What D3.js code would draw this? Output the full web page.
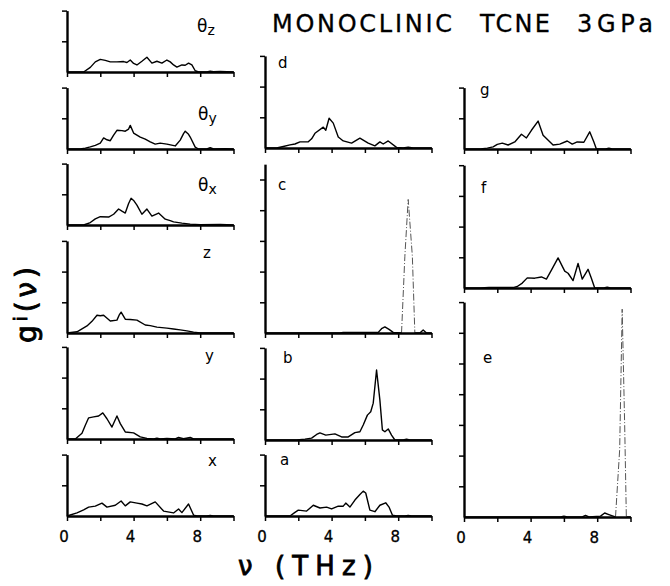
<!DOCTYPE html>
<html>
<head>
<meta charset="utf-8">
<script src="https://cdn.jsdelivr.net/npm/d3@7"></script>
<style>
  html, body { margin: 0; padding: 0; background: #fff; }
  svg { display: block; }
  text { font-family: "DejaVu Sans", sans-serif; fill: #000; }
</style>
</head>
<body>
<svg id="chart" width="670" height="586"></svg>
<script>
// ---------------- DATA (frequency in THz, g in y-tick units) ----------------
const xTickValues = [0, 2, 4, 6, 8, 10];
const xTickLabels = [0, 4, 8];
const titleWords = ["MONOCLINIC", "TCNE", "3GPa"];

const thetaZ = [[0,0],[1.0,0],[1.4,0.15],[1.7,0.33],[2.0,0.41],[2.3,0.38],[2.6,0.33],[3.0,0.33],[3.4,0.34],[3.6,0.31],[3.8,0.39],[4.0,0.28],[4.2,0.23],[4.5,0.35],[4.8,0.48],[5.1,0.29],[5.4,0.35],[5.7,0.29],[6.0,0.39],[6.2,0.33],[6.4,0.23],[6.6,0.16],[6.9,0.23],[7.1,0.22],[7.3,0.29],[7.5,0.23],[7.7,0.04],[7.9,0],[8.4,0],[8.6,0.03],[8.8,0.01],[9.2,0.02],[10,0]];
const thetaY = [[0,0],[0.8,0],[1.1,0.03],[1.4,0.07],[1.7,0.12],[2.0,0.19],[2.2,0.36],[2.4,0.3],[2.6,0.27],[2.8,0.45],[3.0,0.61],[3.3,0.6],[3.5,0.58],[3.7,0.65],[3.8,0.77],[4.0,0.52],[4.4,0.39],[4.7,0.32],[5.0,0.23],[5.3,0.16],[5.6,0.19],[6.0,0.16],[6.5,0.10],[6.8,0.29],[7.0,0.5],[7.1,0.58],[7.3,0.48],[7.4,0.39],[7.7,0.06],[7.9,0],[8.4,0],[8.6,0.04],[8.8,0],[9.5,0.01],[10,0]];
const thetaX = [[0,0],[1.0,0],[1.4,0.08],[1.7,0.2],[2.0,0.27],[2.5,0.26],[2.8,0.35],[3.1,0.52],[3.3,0.45],[3.5,0.39],[3.7,0.7],[3.85,0.87],[4.0,0.8],[4.2,0.65],[4.5,0.35],[4.8,0.52],[5.1,0.29],[5.5,0.39],[5.9,0.19],[6.2,0.14],[6.4,0.10],[6.9,0.06],[7.4,0.03],[8.0,0.01],[9.2,0.02],[10,0]];
const transZ = [[0,0],[0.6,0.04],[1.2,0.23],[1.5,0.38],[1.8,0.58],[2.0,0.56],[2.2,0.58],[2.6,0.39],[3.0,0.42],[3.15,0.6],[3.25,0.68],[3.5,0.45],[3.8,0.44],[4.2,0.42],[4.7,0.26],[5.0,0.24],[5.4,0.19],[6.0,0.16],[6.4,0.13],[6.8,0.10],[7.2,0.07],[7.6,0.03],[8.0,0],[10,0]];
const transY = [[0,0],[0.5,0],[0.9,0.19],[1.1,0.45],[1.3,0.69],[1.6,0.72],[1.9,0.75],[2.15,0.85],[2.4,0.66],[2.7,0.39],[3.0,0.75],[3.2,0.5],[3.5,0.23],[4.0,0.20],[4.4,0.07],[4.8,0.02],[5.2,0],[5.4,0.03],[5.6,0],[6.0,0.02],[6.5,0],[6.7,0.05],[7.0,0.01],[7.4,0.05],[7.6,0],[10,0]];
const transX = [[0,0],[0.6,0.1],[1.0,0.2],[1.3,0.29],[1.7,0.32],[2.1,0.42],[2.4,0.29],[2.9,0.35],[3.25,0.49],[3.5,0.33],[3.8,0.46],[4.2,0.42],[4.5,0.39],[4.8,0.33],[5.3,0.46],[5.8,0.16],[6.4,0.10],[6.7,0.23],[6.9,0.11],[7.3,0.39],[7.6,0.03],[7.8,0],[8.4,0],[8.6,0.02],[8.8,0],[10,0]];
const modeD = [[0,0],[0.7,0],[1.1,0.05],[1.5,0.1],[1.8,0.13],[2.1,0.2],[2.6,0.2],[2.8,0.3],[3.0,0.48],[3.5,0.68],[3.65,0.58],[3.85,0.97],[4.1,0.81],[4.4,0.36],[4.7,0.23],[5.2,0.16],[5.7,0.32],[6.2,0.16],[6.6,0.07],[6.9,0.2],[7.1,0.13],[7.4,0.23],[7.9,0.02],[8.3,0],[8.6,0.03],[8.9,0],[10,0]];
const modeC = [[0,0],[4.5,0],[4.7,0.02],[6.8,0.02],[7.0,0.14],[7.2,0.2],[7.45,0.12],[7.7,0.02],[8.2,0],[8.4,2.5],[8.6,4.35],[8.85,2.5],[9.0,0],[9.3,0],[9.5,0.1],[9.7,0],[10,0]];
const modeB = [[0,0],[1.9,0],[2.4,0.03],[2.8,0.06],[3.1,0.18],[3.3,0.23],[3.65,0.16],[4.2,0.2],[4.6,0.1],[5.0,0.1],[5.4,0.24],[5.7,0.27],[5.9,0.49],[6.15,0.81],[6.35,0.92],[6.5,1.2],[6.7,2.28],[6.9,1.3],[7.05,0.33],[7.2,0.27],[7.4,0.36],[7.6,0.16],[7.8,0],[8.3,0],[8.5,0.03],[8.7,0],[10,0]];
const modeA = [[0,0],[1.5,0],[1.8,0.12],[2.0,0.19],[2.5,0.16],[2.9,0.35],[3.3,0.26],[3.7,0.29],[4.0,0.23],[4.4,0.32],[4.7,0.32],[4.85,0.42],[5.1,0.29],[5.4,0.52],[5.7,0.7],[5.9,0.81],[6.05,0.75],[6.3,0.19],[6.6,0.14],[6.9,0.35],[7.25,0.43],[7.45,0.29],[7.65,0.03],[7.9,0],[8.4,0],[8.6,0.02],[8.8,0],[10,0]];
const modeG = [[0,0],[1.0,0],[1.4,0.03],[1.75,0.07],[2.0,0.15],[2.3,0.19],[2.65,0.13],[3.05,0.23],[3.45,0.48],[3.75,0.36],[4.05,0.61],[4.45,0.91],[4.75,0.45],[5.35,0.13],[5.75,0.16],[6.2,0.26],[6.5,0.16],[6.8,0.23],[7.2,0.22],[7.55,0.56],[7.8,0.23],[7.95,0],[8.5,0],[8.7,0.03],[8.9,0],[10,0]];
const modeF = [[0,0],[1.0,0],[1.5,0.02],[3.0,0.02],[3.2,0.05],[3.5,0.16],[3.8,0.33],[4.25,0.32],[4.65,0.36],[4.95,0.29],[5.25,0.58],[5.65,0.98],[6.05,0.55],[6.25,0.48],[6.55,0.24],[6.85,0.8],[7.1,0.29],[7.45,0.61],[7.65,0.32],[7.85,0],[8.4,0],[8.6,0.03],[8.8,0],[10,0]];
const modeE = [[0,0],[5.8,0],[6.0,0.03],[6.2,0],[7.1,0],[7.3,0.05],[7.5,0],[8.2,0.03],[8.45,0.13],[8.7,0.08],[9.0,0.02],[9.1,0],[9.35,2.2],[9.5,6.77],[9.65,3.0],[9.75,0],[10,0]];

// ---------------- LAYOUT ----------------
const colX = [67, 265, 464];
const plotW = 166.5;
const unitPx = 30.7;

const panels = [
  { data: thetaZ, col: 0, base: 72,  units: 2, label: "θ", sub: "z", lx: 197, ly: 32 },
  { data: thetaY, col: 0, base: 149, units: 2, label: "θ", sub: "y", lx: 198, ly: 120 },
  { data: thetaX, col: 0, base: 225, units: 2, label: "θ", sub: "x", lx: 198, ly: 191 },
  { data: transZ, col: 0, base: 333, units: 3, label: "z", lx: 203, ly: 258 },
  { data: transY, col: 0, base: 439, units: 3, label: "y", lx: 205, ly: 361 },
  { data: transX, col: 0, base: 516, units: 2, label: "x", lx: 208, ly: 466, bottom: true },
  { data: modeD,  col: 1, base: 148, units: 3, label: "d", lx: 278, ly: 68 },
  { data: modeC,  col: 1, base: 333, units: 5.5, label: "c", lx: 278, ly: 190, dashed: [8.2, 9.0] },
  { data: modeB,  col: 1, base: 440, units: 3, label: "b", lx: 283, ly: 363 },
  { data: modeA,  col: 1, base: 516, units: 2, label: "a", lx: 280, ly: 465, bottom: true },
  { data: modeG,  col: 2, base: 149, units: 2, label: "g", lx: 480, ly: 95 },
  { data: modeF,  col: 2, base: 288, units: 4, label: "f", lx: 481, ly: 193 },
  { data: modeE,  col: 2, base: 517, units: 7, label: "e", lx: 483, ly: 363, bottom: true, dashed: [9.1, 9.75] }
];

const svg = d3.select("#chart");

panels.forEach(p => {
  const x0 = colX[p.col];
  const x = d3.scaleLinear().domain([0, 10]).range([x0, x0 + plotW]);
  const y = d3.scaleLinear().domain([0, p.units]).range([p.base, p.base - p.units * unitPx]);
  const g = svg.append("g");

  const line = d3.line().x(d => x(d[0])).y(d => y(d[1]));
  if (p.dashed) {
    const [lo, hi] = p.dashed;
    g.append("path")
      .attr("d", d3.line().defined(d => d[0] <= lo || d[0] >= hi).x(d => x(d[0])).y(d => y(d[1]))(p.data))
      .attr("fill", "none").attr("stroke", "#000").attr("stroke-width", 1.4).attr("stroke-linejoin", "round");
    const peak = p.data.filter(d => d[0] >= lo && d[0] <= hi);
    g.append("path")
      .attr("d", line(peak))
      .attr("fill", "none").attr("stroke", "#555").attr("stroke-width", 1)
      .attr("stroke-dasharray", "7,2,1,2");
  } else {
    g.append("path")
      .attr("d", line(p.data))
      .attr("fill", "none").attr("stroke", "#000").attr("stroke-width", 1.4).attr("stroke-linejoin", "round");
  }

  const xAxis = d3.axisBottom(x).tickValues(xTickValues).tickSize(5).tickSizeOuter(0).tickFormat("");
  const gx = g.append("g").attr("transform", `translate(0,${p.base})`).call(xAxis);
  gx.select(".domain").attr("stroke", "#000").attr("stroke-width", 2.4);
  gx.selectAll(".tick line").attr("stroke", "#000").attr("stroke-width", 1.5);

  const yTicks = d3.range(1, Math.floor(p.units) + 1);
  const yAxis = d3.axisLeft(y).tickValues(yTicks).tickSize(5).tickSizeOuter(0).tickFormat("");
  const gy = g.append("g").attr("transform", `translate(${x0},0)`).call(yAxis);
  gy.select(".domain").attr("stroke", "#000").attr("stroke-width", 2.4);
  gy.selectAll(".tick line").attr("stroke", "#000").attr("stroke-width", 1.5);

  if (p.bottom) {
    g.selectAll(".xl").data(xTickLabels).enter().append("text")
      .attr("x", d => x(d) - 3).attr("y", p.base + 26)
      .attr("text-anchor", "middle").attr("font-size", 15)
      .attr("stroke", "#000").attr("stroke-width", 0.3).text(d => d);
  }

  const t = g.append("text").attr("x", p.lx).attr("y", p.ly).attr("font-size", p.sub ? 17 : 15);
  t.append("tspan").text(p.label);
  if (p.sub) t.append("tspan").attr("dy", 3).attr("font-size", 14).text(p.sub);
});

// title (three words, as spaced in the figure)
const titleSpans = [[272, 180], [480, 70], [577, 76]];
titleWords.forEach((w, i) => {
  svg.append("text").attr("x", titleSpans[i][0]).attr("y", 32).attr("font-size", 24)
    .attr("textLength", titleSpans[i][1]).attr("lengthAdjust", "spacing")
    .attr("stroke", "#000").attr("stroke-width", 0.3)
    .text(w);
});

// y label
const yl = svg.append("text").attr("transform", "translate(36,343) rotate(-90)")
  .attr("font-size", 28).attr("stroke", "#000").attr("stroke-width", 0.9)
  .attr("textLength", 76).attr("lengthAdjust", "spacing");
yl.append("tspan").text("g");
yl.append("tspan").attr("dy", -9).attr("font-size", 18).text("i");
yl.append("tspan").attr("dy", 9).text("(ν)");

// x label
svg.append("text").attr("x", 238).attr("y", 575).attr("font-size", 26)
  .attr("stroke", "#000").attr("stroke-width", 0.8)
  .attr("textLength", 135).attr("lengthAdjust", "spacing")
  .text("ν (THz)");
</script>
</body>
</html>
